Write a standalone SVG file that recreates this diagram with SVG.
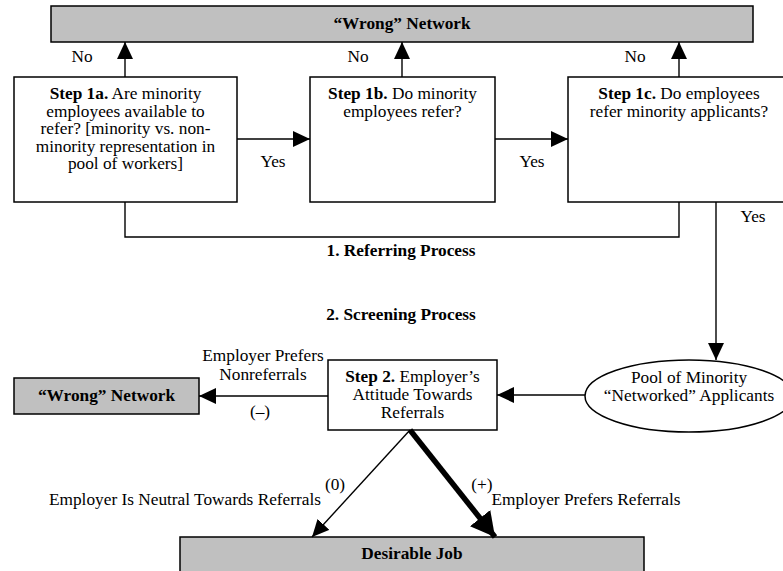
<svg xmlns="http://www.w3.org/2000/svg" width="783" height="571" viewBox="0 0 783 571">
<style>
  text { font-family: "Liberation Serif", "Times New Roman", serif; font-size: 17.3px; fill: #000; text-anchor: middle; }
  .b { font-weight: bold; }
  .box { fill: #fff; stroke: #000; stroke-width: 1.5; }
  .gbox { fill: #c0c0c0; stroke: #000; stroke-width: 1.5; }
  .ln { fill: none; stroke: #000; stroke-width: 1.4; }
  .thick { fill: none; stroke: #000; stroke-width: 5.5; }
</style>
<defs>
  <marker id="ah" markerUnits="userSpaceOnUse" markerWidth="18" markerHeight="16" refX="17" refY="8" orient="auto">
    <path d="M0,0 L17,8 L0,16 z" fill="#000"/>
  </marker>
  <marker id="ahBig" markerUnits="userSpaceOnUse" markerWidth="26" markerHeight="26" refX="24" refY="13" orient="auto">
    <path d="M0,0 L24,13 L0,26 z" fill="#000"/>
  </marker>
</defs>
<rect width="783" height="571" fill="#fff"/>

<g id="wrong-top">
  <rect class="gbox" x="51" y="6" width="702" height="36"/>
  <text class="b" x="402" y="29">“Wrong” Network</text>
</g>

<g id="step1a">
  <rect class="box" x="14" y="77" width="223" height="125"/>
  <text x="125.5" y="99"><tspan class="b">Step 1a.</tspan> Are minority</text>
  <text x="125.5" y="116.5">employees available to</text>
  <text x="125.5" y="134">refer? [minority vs. non-</text>
  <text x="125.5" y="151.5">minority representation in</text>
  <text x="125.5" y="169">pool of workers]</text>
</g>

<g id="step1b">
  <rect class="box" x="310" y="77" width="185" height="125"/>
  <text x="402.5" y="99"><tspan class="b">Step 1b.</tspan> Do minority</text>
  <text x="402.5" y="116.5">employees refer?</text>
</g>

<g id="step1c">
  <rect class="box" x="568" y="77" width="230" height="125"/>
  <text x="679" y="99"><tspan class="b">Step 1c.</tspan> Do employees</text>
  <text x="679" y="116.5">refer minority applicants?</text>
</g>

<g id="pool">
  <ellipse class="box" cx="689" cy="396" rx="104" ry="36"/>
  <text x="689" y="383">Pool of Minority</text>
  <text x="689" y="401">“Networked” Applicants</text>
</g>

<g id="step2">
  <rect class="box" x="328" y="360" width="169" height="70"/>
  <text x="412.5" y="382"><tspan class="b">Step 2.</tspan> Employer’s</text>
  <text x="412.5" y="400">Attitude Towards</text>
  <text x="412.5" y="418">Referrals</text>
</g>

<g id="wrong-left">
  <rect class="gbox" x="14" y="378" width="185" height="36"/>
  <text class="b" x="106.5" y="401">“Wrong” Network</text>
</g>

<g id="job">
  <rect class="gbox" x="180" y="537" width="464" height="40"/>
  <text class="b" x="412" y="559">Desirable Job</text>
</g>

<g id="connectors">
  <line class="ln" x1="125" y1="77" x2="125" y2="42" marker-end="url(#ah)"/>
  <line class="ln" x1="402" y1="77" x2="402" y2="42" marker-end="url(#ah)"/>
  <line class="ln" x1="679" y1="77" x2="679" y2="42" marker-end="url(#ah)"/>
  <line class="ln" x1="237" y1="139" x2="310" y2="139" marker-end="url(#ah)"/>
  <line class="ln" x1="495" y1="139" x2="568" y2="139" marker-end="url(#ah)"/>
  <polyline class="ln" points="125,202 125,237 679,237 679,202"/>
  <line class="ln" x1="716" y1="202" x2="716" y2="360" marker-end="url(#ah)"/>
  <line class="ln" x1="585" y1="395" x2="497" y2="395" marker-end="url(#ah)"/>
  <line class="ln" x1="328" y1="396" x2="199" y2="396" marker-end="url(#ah)"/>
  <line class="ln" x1="410" y1="430" x2="312" y2="537" marker-end="url(#ah)"/>
  <line class="thick" x1="410" y1="430" x2="495" y2="537" marker-end="url(#ahBig)"/>
</g>

<g id="labels">
  <text x="82" y="62">No</text>
  <text x="358" y="62">No</text>
  <text x="635" y="62">No</text>
  <text x="273" y="167">Yes</text>
  <text x="532" y="167">Yes</text>
  <text x="753" y="222">Yes</text>
  <text class="b" x="401" y="256">1. Referring Process</text>
  <text class="b" x="401" y="320">2. Screening Process</text>
  <text x="263" y="361">Employer Prefers</text>
  <text x="263" y="380">Nonreferrals</text>
  <text x="260" y="417">(–)</text>
  <text x="335" y="490">(0)</text>
  <text x="482" y="490">(+)</text>
  <text x="185" y="505">Employer Is Neutral Towards Referrals</text>
  <text x="586" y="505">Employer Prefers Referrals</text>
</g>
</svg>
